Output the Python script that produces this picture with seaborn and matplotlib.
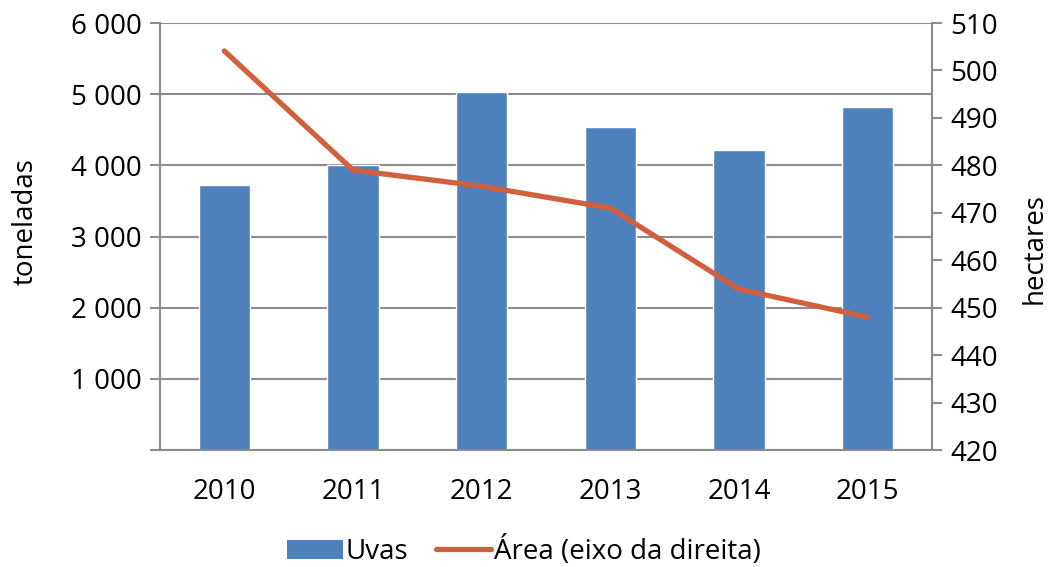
import numpy as np
import pandas as pd
import seaborn as sns
import matplotlib.pyplot as plt
from matplotlib.ticker import FuncFormatter, FixedLocator
from matplotlib.patches import Patch
from matplotlib.lines import Line2D

# Data
years = ['2010', '2011', '2012', '2013', '2014', '2015']
uvas = [3725, 4005, 5030, 4540, 4215, 4820]          # toneladas
area = [504.1, 479.0, 475.6, 471.0, 453.9, 448.0]    # hectares

bar_color = '#4F81BD'
line_color = '#D0603E'
grid_color = '#8C8C8C'
fs = 20

sns.set_style('white')
plt.rcParams['font.family'] = ['Open Sans', 'DejaVu Sans']
plt.rcParams['text.color'] = 'black'
plt.rcParams['xtick.labelcolor'] = 'black'
plt.rcParams['ytick.labelcolor'] = 'black'

df = pd.DataFrame({'ano': years, 'uvas': uvas, 'area': area, 'pos': np.arange(len(years))})

fig = plt.figure(figsize=(10.48, 5.67), dpi=100)
ax = fig.add_axes([0.1527, 0.2063, 0.7366, 0.7531])

sns.barplot(data=df, x='ano', y='uvas', color=bar_color, width=0.4, saturation=1, ax=ax, zorder=2)
ax.set_xlim(-0.5, len(years) - 0.5)
ax.set_ylim(0, 6000)
ax.set_yticks(np.arange(0, 6001, 1000))
ax.yaxis.set_major_formatter(FuncFormatter(lambda v, p: '' if v == 0 else f'{int(v):,}'.replace(',', ' ')))
ax.grid(axis='y', color=grid_color, linewidth=1.5, zorder=0)
ax.set_axisbelow(True)
ax.set_xlabel('')
ax.set_ylabel('')

# category boundary ticks on the x axis
ax.xaxis.set_minor_locator(FixedLocator(np.arange(-0.5, len(years), 1.0)))
ax.tick_params(axis='x', which='major', length=0, labelsize=fs, pad=20, labelcolor='black')
ax.tick_params(axis='x', which='minor', length=7, width=1.5, color=grid_color, direction='out')
ax.tick_params(axis='y', length=7, width=1.5, color=grid_color, labelsize=fs, pad=6, left=True,
               labelcolor='black')

ax.spines['top'].set_visible(False)
for side in ['left', 'bottom', 'right']:
    ax.spines[side].set_color(grid_color)
    ax.spines[side].set_linewidth(1.5)

ax2 = ax.twinx()
sns.lineplot(data=df, x='pos', y='area', color=line_color, linewidth=3.8, ax=ax2, zorder=3,
             solid_capstyle='round')
ax2.set_ylim(420, 510)
ax2.set_yticks(np.arange(420, 511, 10))
ax2.set_ylabel('')
ax2.tick_params(axis='y', length=7, width=1.5, color=grid_color, labelsize=fs, pad=6, right=True,
                labelcolor='black')
ax2.set_xlim(-0.5, len(years) - 0.5)
for side in ['top', 'left', 'bottom']:
    ax2.spines[side].set_visible(False)
ax2.spines['right'].set_color(grid_color)
ax2.spines['right'].set_linewidth(1.5)

# axis titles, placed where the reference has them
ax.text(-0.174, 0.534, 'toneladas', transform=ax.transAxes, rotation=90,
        ha='center', va='center', fontsize=fs, color='black')
ax2.text(1.133, 0.471, 'hectares', transform=ax2.transAxes, rotation=90,
         ha='center', va='center', fontsize=fs, color='black')

handles = [Patch(facecolor=bar_color, edgecolor='none'),
           Line2D([0], [0], color=line_color, linewidth=3.8, solid_capstyle='round')]
fig.legend(handles, ['Uvas', 'Área (eixo da direita)'], loc='center', bbox_to_anchor=(0.5, 0.028),
           ncol=2, frameon=False, fontsize=fs, handlelength=2.0, handletextpad=0.1, columnspacing=1.0)

fig.savefig('out.png', dpi=100)
